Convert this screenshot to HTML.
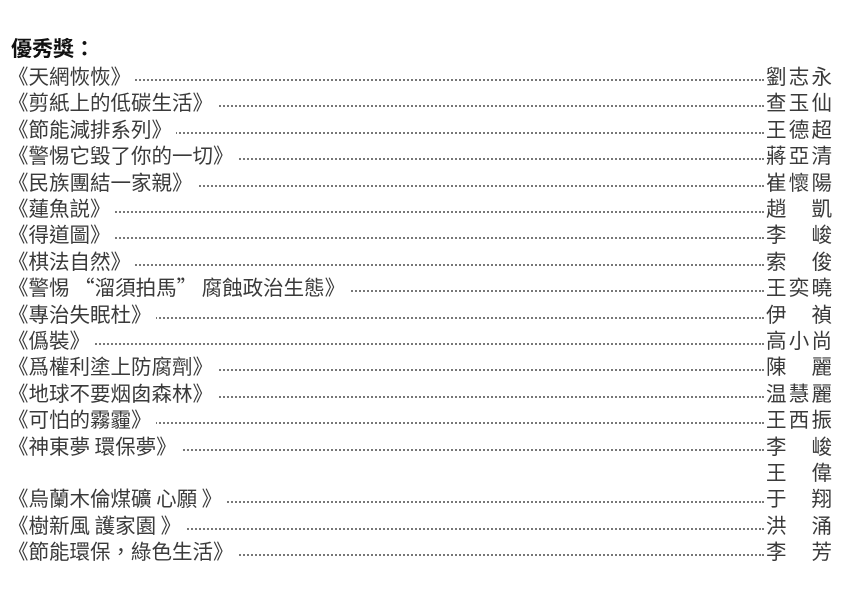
<!DOCTYPE html>
<html><head><meta charset="utf-8"><style>
html,body{margin:0;padding:0;background:#fff;width:849px;height:607px;overflow:hidden;position:relative}
body{font-family:"Noto Sans CJK TC","Noto Sans CJK SC",sans-serif;color:#3a3a3a}
.t{position:absolute;left:11px;top:35px;font-size:21px;font-weight:bold;color:#111;line-height:26px}
.r{position:absolute;left:8px;width:756px;height:26px;line-height:26px;font-size:20.5px;overflow:hidden;white-space:nowrap}
.r b{font-weight:normal;background:#fff;position:relative;z-index:1;padding-right:4px}
.r i{position:absolute;left:0;right:0;top:17px;border-bottom:2px dotted #777}
.n{position:absolute;left:766px;width:66px;height:26px;line-height:26px;font-size:20.5px;display:flex;justify-content:space-between}
</style></head><body>
<div class="t">優秀獎：</div>
<div class="r" style="top:62px"><i></i><b>《天網恢恢》</b></div><div class="n" style="top:62px"><span>劉</span><span>志</span><span>永</span></div>
<div class="r" style="top:88.4px"><i></i><b>《剪紙上的低碳生活》 </b></div><div class="n" style="top:88.4px"><span>查</span><span>玉</span><span>仙</span></div>
<div class="r" style="top:114.8px"><i></i><b>《節能減排系列》</b></div><div class="n" style="top:114.8px"><span>王</span><span>德</span><span>超</span></div>
<div class="r" style="top:141.2px"><i></i><b>《警惕它毀了你的一切》 </b></div><div class="n" style="top:141.2px"><span>蔣</span><span>亞</span><span>清</span></div>
<div class="r" style="top:167.6px"><i></i><b>《民族團結一家親》</b></div><div class="n" style="top:167.6px"><span>崔</span><span>懷</span><span>陽</span></div>
<div class="r" style="top:194px"><i></i><b>《蓮魚説》 </b></div><div class="n" style="top:194px"><span>趙</span><span>凱</span></div>
<div class="r" style="top:220.4px"><i></i><b>《得道圖》 </b></div><div class="n" style="top:220.4px"><span>李</span><span>峻</span></div>
<div class="r" style="top:246.8px"><i></i><b>《棋法自然》 </b></div><div class="n" style="top:246.8px"><span>索</span><span>俊</span></div>
<div class="r" style="top:273.2px"><i></i><b>《警惕 “溜須拍馬” 腐蝕政治生態》 </b></div><div class="n" style="top:273.2px"><span>王</span><span>奕</span><span>曉</span></div>
<div class="r" style="top:299.6px"><i></i><b>《專治失眠杜》 </b></div><div class="n" style="top:299.6px"><span>伊</span><span>禎</span></div>
<div class="r" style="top:326px"><i></i><b>《僞裝》 </b></div><div class="n" style="top:326px"><span>高</span><span>小</span><span>尚</span></div>
<div class="r" style="top:352.4px"><i></i><b>《爲權利塗上防腐劑》 </b></div><div class="n" style="top:352.4px"><span>陳</span><span>麗</span></div>
<div class="r" style="top:378.8px"><i></i><b>《地球不要烟囱森林》 </b></div><div class="n" style="top:378.8px"><span>温</span><span>慧</span><span>麗</span></div>
<div class="r" style="top:405.2px"><i></i><b>《可怕的霧霾》</b></div><div class="n" style="top:405.2px"><span>王</span><span>西</span><span>振</span></div>
<div class="r" style="top:431.6px"><i></i><b>《神東夢 環保夢》 </b></div><div class="n" style="top:431.6px"><span>李</span><span>峻</span></div>
<div class="n" style="top:458px"><span>王</span><span>偉</span></div>
<div class="r" style="top:484.4px"><i></i><b>《烏蘭木倫煤礦 心願 》 </b></div><div class="n" style="top:484.4px"><span>于</span><span>翔</span></div>
<div class="r" style="top:510.8px"><i></i><b>《樹新風 護家園 》</b></div><div class="n" style="top:510.8px"><span>洪</span><span>涌</span></div>
<div class="r" style="top:537.2px"><i></i><b>《節能環保，綠色生活》</b></div><div class="n" style="top:537.2px"><span>李</span><span>芳</span></div>
</body></html>
